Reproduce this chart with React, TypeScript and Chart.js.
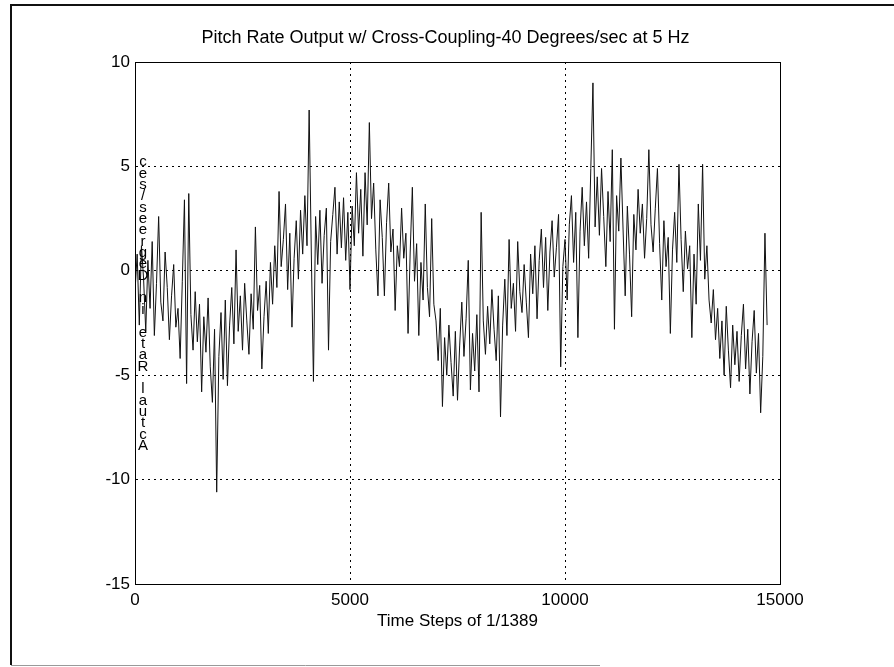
import { useEffect, useRef } from "react";
import { Chart, registerables } from "chart.js";

Chart.register(...registerables);

const TITLE = "Pitch Rate Output w/ Cross-Coupling-40 Degrees/sec at 5 Hz";
const X_LABEL = "Time Steps of 1/1389";
const Y_LABEL = "Actual Rate in Degrees/sec";

const X_TICKS = [0, 5000, 10000, 15000];
const Y_TICKS = [-15, -10, -5, 0, 5, 10];
const STEP = 50; // time steps between samples

// Actual pitch rate (deg/sec), one row per 1000 time steps
const rate00k = [-1.0, 0.8, -2.6, 1.2, -0.4, -2.9, 0.5, -1.8, 1.4, -3.1, -0.6, 2.6, -1.5, -2.4, 0.9, -0.8, -3.3, -1.2, 0.3, -2.7];
const rate01k = [-1.8, -4.2, -0.5, 3.4, -5.4, 3.7, -2.1, -3.8, -1.0, -3.4, -1.6, -5.8, -2.2, -3.9, -1.3, -4.6, -6.3, -2.8, -10.6, -4.1];
const rate02k = [-2.0, -5.2, -1.4, -5.5, -2.6, -0.8, -3.5, 1.0, -2.9, -1.2, -3.8, -0.6, -2.4, -4.0, -1.1, -2.8, 2.1, -1.9, -0.7, -4.7];
const rate03k = [-2.2, -0.5, -3.0, 0.4, -1.6, 1.2, -0.8, 3.8, 0.2, 1.5, 3.2, -0.9, 1.8, -2.7, 0.6, 2.4, -0.4, 2.9, 0.8, 3.6];
const rate04k = [1.2, 7.7, 0.9, -5.3, 2.6, 0.3, 2.9, -0.6, 1.7, 3.0, -3.8, 1.4, 2.7, 4.0, 0.8, 3.3, 1.1, 3.5, 0.5, 2.8];
const rate05k = [-0.9, 3.1, 1.2, 4.7, 1.8, 3.9, 0.7, 4.7, 2.2, 7.1, 2.5, 4.2, 1.0, -1.2, 3.4, 1.6, -1.2, 2.3, 4.2, 0.9];
const rate06k = [2.0, -1.9, 1.2, 0.2, 3.0, 0.6, 1.8, -3.0, 0.9, 4.0, -0.5, 1.3, -3.1, 0.4, -1.4, 3.2, -0.8, -2.2, 2.5, -1.6];
const rate07k = [-2.4, -4.3, -1.8, -6.5, -3.2, -5.0, -2.6, -4.4, -6.0, -2.9, -6.2, -3.6, -1.5, -4.1, -2.3, 0.5, -5.7, -3.0, -4.8, -2.1];
const rate08k = [-5.8, 2.8, -2.4, -4.0, -1.7, -3.5, -0.9, -2.8, -4.3, -1.2, -7.0, -2.6, -0.4, -3.1, 1.5, -1.8, -0.6, -2.9, 1.4, -1.0];
const rate09k = [-2.0, 0.3, -1.5, -3.2, 0.8, -1.1, 1.2, -2.3, 0.5, 2.0, -0.8, 1.6, -1.9, 0.9, 2.4, -0.3, 1.1, 2.7, -4.6, 0.2];
const rate10k = [1.5, -1.4, 2.2, 3.6, 0.4, 2.8, -3.2, 1.9, 4.0, 1.2, 3.3, 0.6, 4.9, 9.0, 2.1, 4.5, 1.7, 4.9, 2.6, 0.2];
const rate11k = [3.8, 1.4, 5.8, -2.8, 3.6, 1.9, 5.4, 2.0, -1.2, 3.1, 0.8, -2.2, 2.7, 1.0, 3.9, 1.8, 3.2, 0.6, 2.5, 5.8];
const rate12k = [2.2, 0.9, 3.0, 4.9, 1.3, -1.4, 2.4, 0.2, 1.6, -3.0, 1.0, 2.8, 0.4, 5.1, 1.5, -1.0, 1.9, 0.1, 1.2, -3.2];
const rate13k = [0.8, -1.6, 3.2, 0.5, 5.1, -0.4, 1.2, -1.4, -2.5, -0.9, -3.3, -1.8, -4.2, -2.4, -5.0, -1.7, -3.8, -5.6, -2.6, -4.5];
const rate14k = [-2.9, -5.3, -3.1, -1.6, -4.7, -2.8, -5.9, -3.4, -1.9, -4.9, -3.0, -6.8, -4.1, 1.8, -2.6];

const RATE = [
  ...rate00k, ...rate01k, ...rate02k, ...rate03k, ...rate04k,
  ...rate05k, ...rate06k, ...rate07k, ...rate08k, ...rate09k,
  ...rate10k, ...rate11k, ...rate12k, ...rate13k, ...rate14k,
];

const FONT = "'Liberation Sans', Arial, Helvetica, sans-serif";

const decor = {
  id: "decor",
  beforeDraw(chart: any) {
    const { ctx } = chart;
    ctx.save();
    ctx.fillStyle = "#fff";
    ctx.fillRect(0, 0, chart.width, chart.height);
    ctx.strokeStyle = "#111";
    ctx.lineWidth = 2;
    ctx.beginPath();
    ctx.moveTo(894, 5);
    ctx.lineTo(11, 5);
    ctx.lineTo(11, 665);
    ctx.stroke();
    ctx.strokeStyle = "#999";
    ctx.lineWidth = 1;
    ctx.beginPath();
    ctx.moveTo(11, 665.5);
    ctx.lineTo(600, 665.5);
    ctx.stroke();
    ctx.restore();
  },
  afterDraw(chart: any) {
    const { ctx, chartArea: a } = chart;
    ctx.save();
    ctx.setLineDash([]);
    ctx.strokeStyle = "#000";
    ctx.lineWidth = 1;
    ctx.strokeRect(Math.round(a.left) + 0.5, Math.round(a.top) + 0.5, Math.round(a.width), Math.round(a.height));
    ctx.fillStyle = "#000";
    ctx.textAlign = "center";
    ctx.textBaseline = "middle";
    ctx.font = `18px ${FONT}`;
    const cx = (a.left + a.right) / 2;
    ctx.fillText(TITLE, cx - 12, 38);
    ctx.font = `17px ${FONT}`;
    ctx.fillText(X_LABEL, cx, 621);
    // stacked, reversed vertical label (as in the scan)
    const chars = Array.from(Y_LABEL).reverse();
    ctx.font = `15px ${FONT}`;
    const y0 = 162;
    const y1 = 446;
    const dy = (y1 - y0) / (chars.length - 1);
    chars.forEach((ch, i) => {
      ctx.fillText(ch, a.left + 8, y0 + i * dy);
    });
    ctx.restore();
  },
};

export default function App() {
  const ref = useRef<HTMLCanvasElement | null>(null);

  useEffect(() => {
    if (!ref.current) return;
    const data = RATE.map((v, i) => ({ x: i * STEP, y: v }));
    const chart = new Chart(ref.current, {
      type: "line",
      data: {
        datasets: [
          {
            label: "Pitch rate",
            data,
            borderColor: "#111",
            borderWidth: 1,
            pointRadius: 0,
            tension: 0,
            fill: false,
          },
        ],
      },
      options: {
        animation: false,
        responsive: false,
        maintainAspectRatio: false,
        events: [],
        layout: { padding: { left: 0, right: 114, top: 62, bottom: 0 } },
        plugins: {
          legend: { display: false },
          title: { display: false },
          tooltip: { enabled: false },
        },
        scales: {
          x: {
            type: "linear",
            min: X_TICKS[0],
            max: X_TICKS[X_TICKS.length - 1],
            afterFit: (s: any) => {
              s.height = 83;
            },
            afterBuildTicks: (s: any) => {
              s.ticks = X_TICKS.map((v) => ({ value: v }));
            },
            ticks: {
              color: "#000",
              font: { family: FONT, size: 17 },
              padding: 6,
              maxRotation: 0,
              autoSkip: false,
              callback: (v: any) => String(v),
            },
            grid: {
              color: "#000",
              lineWidth: 1,
              drawTicks: false,
            },
            border: { display: true, color: "#000", dash: [2, 4] },
          },
          y: {
            type: "linear",
            min: Y_TICKS[0],
            max: Y_TICKS[Y_TICKS.length - 1],
            afterFit: (s: any) => {
              s.width = 135;
            },
            afterBuildTicks: (s: any) => {
              s.ticks = Y_TICKS.map((v) => ({ value: v }));
            },
            ticks: {
              color: "#000",
              font: { family: FONT, size: 17 },
              padding: 5,
              autoSkip: false,
              callback: (v: any) => String(v),
            },
            grid: {
              color: "#000",
              lineWidth: 1,
              drawTicks: false,
            },
            border: { display: true, color: "#000", dash: [2, 4] },
          },
        },
      },
      plugins: [decor],
    });
    return () => chart.destroy();
  }, []);

  return (
    <div style={{ position: "absolute", left: 0, top: 0, width: 894, height: 667 }}>
      <canvas ref={ref} width={894} height={667} style={{ width: 894, height: 667, display: "block" }} />
    </div>
  );
}
